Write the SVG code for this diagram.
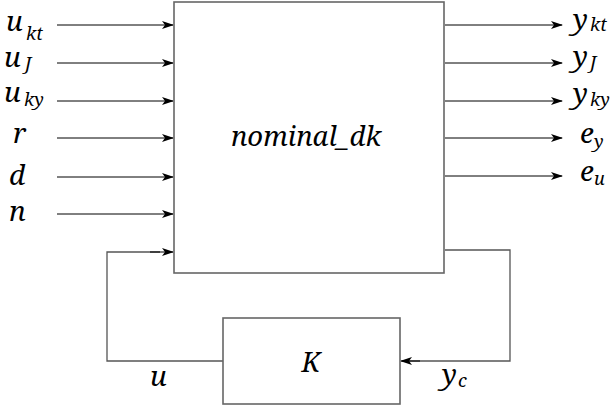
<svg xmlns="http://www.w3.org/2000/svg" width="611" height="406" viewBox="0 0 611 406">
<style>
text{font-family:'Noto Serif','Liberation Serif',serif;font-style:italic;fill:#000}
.m{font-size:28px}
.s{font-size:18px}
.box{fill:#fff;stroke:#666;stroke-width:1.6}
.ar{stroke:#000;stroke-width:1;fill:none;marker-end:url(#ah)}
.fb{stroke:#555;stroke-width:1.3;fill:none}
</style>
<defs>
<marker id="ah" markerWidth="12" markerHeight="8" refX="11" refY="4" orient="auto" markerUnits="userSpaceOnUse">
<path d="M0,0 L12,4 L0,8 L3,4 Z" fill="#000"/>
</marker>
</defs>
<rect width="611" height="406" fill="#fff"/>
<g id="connectors">
<line class="ar" x1="57" y1="25" x2="173" y2="25"/>
<line class="ar" x1="57" y1="63" x2="173" y2="63"/>
<line class="ar" x1="57" y1="101" x2="173" y2="101"/>
<line class="ar" x1="57" y1="138" x2="173" y2="138"/>
<line class="ar" x1="57" y1="177" x2="173" y2="177"/>
<line class="ar" x1="57" y1="214" x2="173" y2="214"/>
<line class="ar" x1="445" y1="25" x2="562" y2="25"/>
<line class="ar" x1="445" y1="63" x2="562" y2="63"/>
<line class="ar" x1="445" y1="101" x2="562" y2="101"/>
<line class="ar" x1="445" y1="138" x2="562" y2="138"/>
<line class="ar" x1="445" y1="176" x2="562" y2="176"/>
<polyline class="fb" points="445,250 510,250 510,361 402,361"/>
<line class="ar" x1="420" y1="361" x2="401" y2="361"/>
<polyline class="fb" points="223,361 107,361 107,252 160,252"/>
<line class="ar" x1="150" y1="252" x2="173" y2="252"/>
</g>
<g id="nominal_dk">
<rect class="box" x="174" y="2" width="270" height="271"/>
<text x="306" y="146" font-size="27.5" text-anchor="middle">nominal_dk</text>
</g>
<g id="K">
<rect class="box" x="223" y="318" width="177" height="86"/>
<text x="311" y="372" font-size="27" text-anchor="middle">K</text>
</g>
<g id="labels">
<text class="m" x="6" y="31">u</text><text class="s" x="26" y="40">kt</text>
<text class="m" x="4" y="67">u</text><text class="s" x="25" y="70">J</text>
<text class="m" x="4" y="102">u</text><text class="s" x="24" y="106">ky</text>
<text class="m" x="13" y="143">r</text>
<text class="m" x="9" y="185">d</text>
<text class="m" x="9" y="221">n</text>
<text class="m" x="573" y="29">y</text><text class="s" x="590" y="31">kt</text>
<text class="m" x="573" y="66">y</text><text class="s" x="590" y="69">J</text>
<text class="m" x="573" y="103">y</text><text class="s" x="590" y="106">ky</text>
<text class="m" x="580" y="143">e</text><text class="s" x="594" y="148">y</text>
<text class="m" x="580" y="181">e</text><text class="s" x="594" y="185">u</text>
<text class="m" x="150" y="386">u</text>
<text class="m" x="442" y="384">y</text><text class="s" x="458" y="387">c</text>
</g>
</svg>
